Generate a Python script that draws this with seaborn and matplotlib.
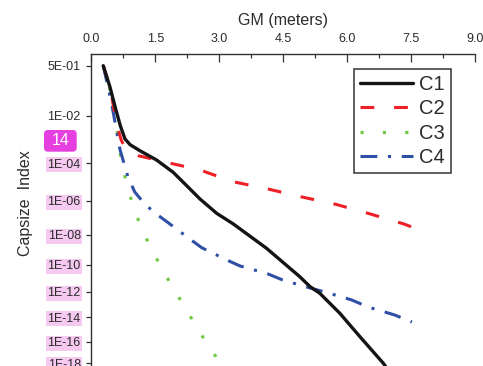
import numpy as np
import matplotlib
matplotlib.use("Agg")
import matplotlib.pyplot as plt
import matplotlib.patches as mpatches
import matplotlib.transforms as mtransforms
from matplotlib.lines import Line2D
from matplotlib.ticker import MultipleLocator, NullLocator
import seaborn as sns

# ---------------- data ----------------
series_names = ["C1", "C2", "C3", "C4"]

c1_gm = [0.28, 0.44, 0.56, 0.68, 0.79, 0.91, 1.14, 1.53, 1.92, 2.12, 2.55, 2.94,
         3.33, 4.11, 4.89, 5.13, 5.36, 5.83, 6.30, 6.85, 7.05]
c1_ci = [5.0e-1, 9.3e-2, 2.0e-2, 3.9e-3, 1.07e-3, 6.1e-4, 3.4e-4, 1.38e-4, 3.3e-5,
         1.17e-5, 1.23e-6, 1.84e-7, 4.4e-8, 1.3e-9, 1.33e-11, 2.4e-12, 7.5e-13,
         2.05e-14, 2.6e-16, 1.0e-18, 8.3e-20]

c2_gm = [0.28, 0.44, 0.60, 0.70, 0.83, 1.10, 1.73, 2.55, 3.32, 4.11, 4.89, 5.75,
         6.53, 7.33, 7.52]
c2_ci = [5.0e-1, 9.3e-2, 4.2e-3, 9.7e-4, 3.4e-4, 2.1e-4, 1.13e-4, 4.4e-5, 1.04e-5,
         4.4e-6, 1.67e-6, 6.0e-7, 1.72e-7, 4.4e-8, 2.9e-8]

c3_gm = [0.28, 0.42, 0.50, 0.60, 0.66, 0.75, 0.87, 1.02, 1.20, 1.42, 1.65, 1.90,
         2.16, 2.41, 2.67, 2.95, 3.06]
c3_ci = [5.0e-1, 1.05e-1, 2.0e-2, 2.8e-3, 3.6e-4, 4.4e-5, 3.4e-6, 2.6e-7, 1.78e-8,
         1.1e-9, 5.7e-11, 2.4e-12, 9.6e-14, 3.6e-15, 1.2e-16, 2.9e-18, 4.5e-19]

c4_gm = [0.28, 0.48, 0.67, 0.86, 1.02, 1.22, 1.45, 1.77, 2.27, 2.59, 3.18, 3.49,
         4.12, 4.49, 5.13, 5.48, 6.11, 6.49, 7.12, 7.52]
c4_ci = [5.0e-1, 2.5e-2, 4.0e-4, 1.85e-5, 2.9e-6, 8.1e-7, 2.3e-7, 6.0e-8, 6.6e-9,
         1.42e-9, 2.15e-10, 8.4e-11, 2.3e-11, 7.5e-12, 1.9e-12, 9.5e-13, 2.25e-13,
         6.4e-14, 1.5e-14, 4.1e-15]

x_ticks = [0.0, 1.5, 3.0, 4.5, 6.0, 7.5, 9.0]
x_tick_labels = ["0.0", "1.5", "3.0", "4.5", "6.0", "7.5", "9.0"]
y_ticks = [5e-1, 1e-2, 1e-4, 1e-6, 1e-8, 1e-10, 1e-12, 1e-14, 1e-16, 1e-18]
y_tick_labels = ["5E-01", "1E-02", "1E-04", "1E-06", "1E-08", "1E-10",
                 "1E-12", "1E-14", "1E-16", "1E-18"]

# ---------------- axis gauge of the (non-uniform) y scale ----------------
gauge_exp = np.array([-30, -18, -16, -14, -12, -10, -8, -6, -4, -2, np.log10(0.5), 3])
gauge_pos = np.array([492.9, 363.3, 341.7, 317.3, 291.7, 265.0, 235.0, 200.7,
                      163.3, 116.0, 65.7, -32.0])


def fwd(y):
    y = np.asarray(y, dtype=float)
    u = np.log10(np.clip(y, 1e-300, None))
    return -np.interp(u, gauge_exp, gauge_pos)


def inv(p):
    p = np.asarray(p, dtype=float)
    return 10 ** np.interp(p, -gauge_pos, gauge_exp)


# ---------------- style ----------------
sns.set_theme(style="white")
plt.rcParams["font.family"] = ["Liberation Sans", "DejaVu Sans"]

W, H = 483, 366
fig = plt.figure(figsize=(W / 100, H / 100), dpi=100)
ax = fig.add_axes([91.3 / W, (H - 374.1) / H, 383.7 / W, 320.1 / H])

colors = {"C1": "#141414", "C2": "#ee1f26", "C3": "#72c847", "C4": "#2f4fa6"}
styles = {"C1": "-", "C2": (0, (4.5, 6.5)), "C3": (0, (1.0, 6.0)),
          "C4": (0, (5.5, 3.5, 1.0, 3.5))}
widths = {"C1": 2.4, "C2": 2.2, "C3": 2.3, "C4": 2.2}
xs = {"C1": c1_gm, "C2": c2_gm, "C3": c3_gm, "C4": c4_gm}
ys = {"C1": c1_ci, "C2": c2_ci, "C3": c3_ci, "C4": c4_ci}

for name in ["C3", "C4", "C2", "C1"]:
    sns.lineplot(x=xs[name], y=ys[name], ax=ax, color=colors[name],
                 linewidth=widths[name], linestyle=styles[name], sort=False,
                 estimator=None, legend=False)

ax.set_yscale("function", functions=(fwd, inv))
ax.set_xlim(0, 9)
ax.set_ylim(1e-19, 1.24)

# x axis on top
ax.xaxis.tick_top()
ax.xaxis.set_label_position("top")
ax.set_xticks(x_ticks, labels=x_tick_labels)
ax.xaxis.set_minor_locator(MultipleLocator(0.75))
ax.set_yticks(y_ticks, labels=y_tick_labels)
ax.yaxis.set_minor_locator(NullLocator())

spine_col = "#333333"
for s in ["bottom", "right"]:
    ax.spines[s].set_visible(False)
for s in ["top", "left"]:
    ax.spines[s].set_color(spine_col)
    ax.spines[s].set_linewidth(1.0)

ax.tick_params(axis="x", which="major", direction="in", length=5.5, width=0.9,
               color=spine_col, labelsize=9, labelcolor="#2b2b2b", pad=6.5,
               top=True, bottom=False)
ax.tick_params(axis="x", which="minor", direction="in", length=3.2, width=0.9,
               color=spine_col, top=True, bottom=False)
ax.tick_params(axis="y", which="major", direction="out", length=3.6, width=0.9,
               color=spine_col, labelsize=9, labelcolor="#2b2b2b", pad=4,
               left=True, right=False)

ax.set_xlabel("GM (meters)", fontsize=11.5, color="#2b2b2b")
ax.xaxis.set_label_coords(0.5, 1.0906)
ax.set_ylabel("Capsize  Index", fontsize=11.5, color="#2b2b2b")
ax.yaxis.set_label_coords(-0.152, 0.533)

# pink highlights behind the lower tick labels
for lbl in ax.get_yticklabels()[2:]:
    lbl.set_bbox(dict(boxstyle="square,pad=0.12", fc="#f6c9f1", ec="none"))

# legend
handles = [Line2D([], [], color=colors[n], linewidth=widths[n], linestyle=styles[n])
           for n in series_names]
leg = ax.legend(handles, series_names, loc="upper left",
                bbox_to_anchor=(0.6854, 0.9522), borderaxespad=0,
                fontsize=14.5, frameon=True, fancybox=False, framealpha=1,
                edgecolor="#333333", handlelength=2.64, handletextpad=0.3,
                borderpad=0.28, labelspacing=0.27)
leg.get_frame().set_linewidth(1.1)
for t in leg.get_texts():
    t.set_color("#2b2b2b")

# magenta badge
badge = mpatches.FancyBboxPatch((44, H - 151.7), 32.7, 21.7,
                                boxstyle="round,pad=0,rounding_size=4",
                                transform=mtransforms.IdentityTransform(),
                                fc="#e63fe0", ec="none")
fig.add_artist(badge)
fig.text(60.3 / W, 1 - 140.9 / H, "14", color="white", ha="center",
         va="center", fontsize=11.5)

fig.savefig("out.png", dpi=100, facecolor="white")
